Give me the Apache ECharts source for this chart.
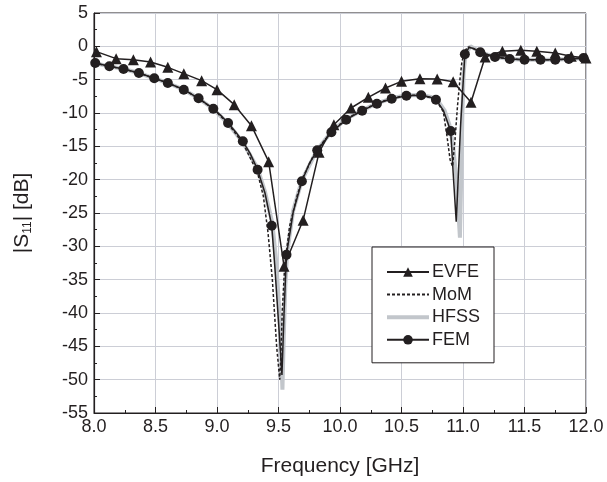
<!DOCTYPE html>
<html>
<head>
<meta charset="utf-8">
<script src="https://cdn.jsdelivr.net/npm/echarts@6/dist/echarts.min.js"></script>
<style>html,body{margin:0;padding:0;background:#fff}#c{width:607px;height:482px}</style>
</head>
<body>
<div id="c"></div>
<script>
// x tick labels
const xTicks = ['8.0','8.5','9.0','9.5','10.0','10.5','11.0','11.5','12.0'];
const yTicks = [5,0,-5,-10,-15,-20,-25,-30,-35,-40,-45,-50,-55];

// EVFE (sparse, straight segments)
const evfeFreq = [8.02,8.18,8.32,8.46,8.60,8.73,8.875,9.0,9.14,9.28,9.42,9.545,9.70,9.83,9.95,10.09,10.23,10.37,10.50,10.65,10.79,10.92,11.065,11.18,11.32,11.47,11.60,11.75,11.88,12.0];
const evfeDb   = [-0.8,-1.85,-2.0,-2.35,-3.15,-4.1,-5.15,-6.5,-8.75,-11.9,-17.3,-33.0,-26.1,-15.9,-11.75,-9.25,-7.65,-6.25,-5.25,-4.85,-4.9,-5.3,-8.4,-1.6,-0.75,-0.6,-0.75,-1.0,-1.5,-1.75];

// FEM (dense line; marker flag 1 = circle drawn)
const femFreq = [8.01,8.125,8.24,8.365,8.49,8.60,8.73,8.85,8.97,9.03,9.09,9.15,9.21,9.27,9.33,9.39,9.445,9.47,9.497,9.515,9.528,9.545,9.565,9.62,9.69,9.75,9.815,9.93,10.05,10.18,10.30,10.42,10.54,10.66,10.73,10.78,10.84,10.90,10.92,10.945,10.98,11.015,11.05,11.09,11.14,11.26,11.38,11.50,11.63,11.75,11.86,11.98];
const femDb   = [-2.5,-3.0,-3.4,-4.0,-4.8,-5.5,-6.5,-7.8,-9.35,-10.35,-11.5,-12.8,-14.25,-16.1,-18.5,-22.0,-26.9,-33.0,-40.5,-45.5,-49.3,-40.0,-31.25,-24.8,-20.25,-17.6,-15.6,-12.9,-11.0,-9.65,-8.6,-7.85,-7.4,-7.35,-7.6,-8.0,-9.6,-12.7,-19.0,-26.3,-12.0,-1.2,-0.15,-0.35,-0.9,-1.6,-1.9,-2.0,-2.0,-2.0,-1.9,-1.75];
const femMark = [1,1,1,1,1,1,1,1,1,0,1,0,1,0,1,0,1,0,0,0,0,0,1,0,1,0,1,1,1,1,1,1,1,1,0,1,0,1,0,0,0,1,0,0,1,1,1,1,1,1,1,1];

// HFSS (dense)
const hfssFreq = [8.0,8.125,8.24,8.365,8.49,8.60,8.73,8.85,8.97,9.09,9.21,9.33,9.39,9.45,9.48,9.505,9.52,9.532,9.542,9.555,9.57,9.62,9.69,9.815,9.93,10.05,10.18,10.30,10.42,10.54,10.66,10.74,10.80,10.85,10.89,10.92,10.945,10.96,10.975,10.985,10.995,11.005,11.02,11.06,11.10,11.14,11.26,11.38,11.50,11.63,11.75,11.86,12.0];
const hfssDb   = [-2.5,-3.0,-3.4,-4.0,-4.8,-5.5,-6.5,-7.8,-9.4,-11.6,-14.4,-18.3,-21.8,-26.5,-32.0,-39.0,-45.0,-51.5,-44.0,-36.0,-31.0,-24.6,-20.1,-15.5,-12.8,-10.9,-9.6,-8.55,-7.8,-7.35,-7.3,-7.6,-8.3,-9.6,-11.8,-15.0,-19.5,-24.0,-28.7,-20.0,-10.0,-4.0,-1.2,0.0,-0.4,-0.9,-1.6,-1.9,-2.0,-2.0,-2.0,-1.9,-1.75];

// MoM (dense)
const momFreq = [8.0,8.125,8.24,8.365,8.49,8.60,8.73,8.85,8.97,9.09,9.21,9.33,9.377,9.415,9.45,9.485,9.50,9.51,9.52,9.53,9.55,9.59,9.65,9.70,9.80,9.93,10.05,10.18,10.30,10.42,10.54,10.66,10.75,10.80,10.84,10.87,10.895,10.915,10.935,10.955,10.975,10.99,11.01,11.04,11.08,11.14,11.26,11.38,11.50,11.63,11.75,11.86,12.0];
const momDb   = [-2.5,-3.0,-3.4,-4.0,-4.8,-5.5,-6.5,-7.8,-9.4,-11.6,-14.5,-19.0,-22.5,-28.0,-35.0,-45.0,-48.0,-50.0,-46.0,-40.0,-33.0,-27.0,-22.5,-19.6,-15.8,-12.8,-10.9,-9.6,-8.55,-7.8,-7.35,-7.3,-7.8,-8.6,-9.8,-13.5,-17.0,-18.0,-14.0,-9.0,-5.0,-2.5,-0.8,-0.1,-0.3,-0.9,-1.6,-1.9,-2.0,-2.0,-2.0,-1.9,-1.75];

const zip = (a, b) => a.map((x, i) => [x, b[i]]);
const femData = femFreq.map((x, i) => ({ value: [x, femDb[i]], symbol: femMark[i] ? 'circle' : 'none' }));

const FONT = '"Liberation Sans", Arial, sans-serif';
const INK = '#231f20';
const chart = echarts.init(document.getElementById('c'), null, { renderer: 'canvas' });
chart.setOption({
  animation: false,
  backgroundColor: '#fff',
  grid: { left: 94, right: 21, top: 13, bottom: 69, show: true, borderColor: INK, borderWidth: 1, backgroundColor: 'transparent' },
  legend: {
    orient: 'vertical', left: 372, top: 247,
    backgroundColor: '#fff', borderColor: INK, borderWidth: 1,
    padding: [16, 14, 14, 13],
    itemWidth: 42, itemHeight: 12, itemGap: 4.6,
    textStyle: { fontFamily: FONT, fontSize: 18, lineHeight: 16, color: INK, padding: [0, 0, 0, -2] },
    data: [
      { name: 'EVFE' },
      { name: 'MoM', itemStyle: { opacity: 0 } },
      { name: 'HFSS', itemStyle: { opacity: 0 }, lineStyle: { width: 4, color: '#c2c6cb' } },
      { name: 'FEM' }
    ]
  },
  xAxis: {
    type: 'value', min: 8, max: 12, interval: 0.5,
    name: 'Frequency [GHz]', nameLocation: 'middle', nameGap: 43,
    nameTextStyle: { fontFamily: FONT, fontSize: 21, color: INK },
    axisLine: { show: true, onZero: false, lineStyle: { color: INK, width: 1.2 } },
    axisTick: { show: true, inside: true, length: 6, lineStyle: { color: INK } },
    minorTick: { show: true, splitNumber: 2, length: 3, lineStyle: { color: INK } },
    axisLabel: { fontFamily: FONT, fontSize: 18, color: INK, margin: 5, formatter: v => xTicks[Math.round((v - 8) / 0.5)] },
    splitLine: { show: true, lineStyle: { color: '#ccced6', width: 1 } }
  },
  yAxis: {
    type: 'value', min: -55, max: 5, interval: 5,
    name: '{n||S}{s|11}{n|| [dB]}', nameLocation: 'middle', nameGap: 60, nameRotate: 90,
    nameTextStyle: {
      fontFamily: FONT, fontSize: 21, color: INK,
      rich: {
        n: { fontFamily: FONT, fontSize: 21, color: INK },
        s: { fontFamily: FONT, fontSize: 12, color: INK, padding: [12, 0, 0, 0] }
      }
    },
    axisLine: { show: true, onZero: false, lineStyle: { color: INK, width: 1.2 } },
    axisTick: { show: true, inside: true, length: 6, lineStyle: { color: INK } },
    minorTick: { show: true, splitNumber: 2, length: 3, lineStyle: { color: INK } },
    axisLabel: { fontFamily: FONT, fontSize: 18, color: INK, margin: 6, formatter: v => String(yTicks[yTicks.indexOf(v)]) },
    splitLine: { show: true, lineStyle: { color: '#ccced6', width: 1 } }
  },
  series: [
    {
      name: 'HFSS', type: 'line', data: zip(hfssFreq, hfssDb), z: 2,
      showSymbol: false, symbol: 'none',
      lineStyle: { color: '#c2c6cb', width: 4 }, itemStyle: { color: '#c2c6cb' }
    },
    {
      name: 'MoM', type: 'line', data: zip(momFreq, momDb), z: 3,
      showSymbol: false, symbol: 'none',
      lineStyle: { color: INK, width: 1.5, type: [3, 2] }, itemStyle: { color: INK }
    },
    {
      name: 'FEM', type: 'line', data: femData, z: 4,
      symbol: 'circle', symbolSize: 10, showSymbol: true,
      lineStyle: { color: INK, width: 1.5 }, itemStyle: { color: INK }
    },
    {
      name: 'EVFE', type: 'line', data: zip(evfeFreq, evfeDb), z: 5,
      symbol: 'triangle', symbolSize: 11, showSymbol: true,
      lineStyle: { color: INK, width: 1.5 }, itemStyle: { color: INK }
    }
  ]
});
</script>
</body>
</html>
